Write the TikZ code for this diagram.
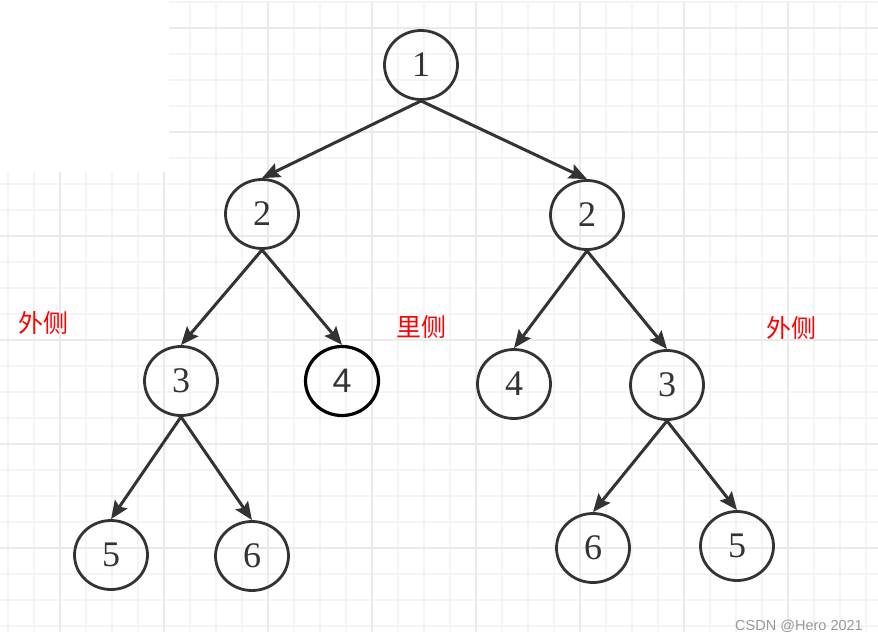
\documentclass[tikz,border=0pt]{standalone}
\usepackage{fontspec}
\setmainfont{Liberation Serif}
\newfontfamily\cjkfont{Noto Sans CJK SC}
\newfontfamily\arialfont{Liberation Sans}
\usetikzlibrary{arrows.meta,shapes.geometric}
\definecolor{gridminor}{HTML}{F4F4F4}
\definecolor{gridmajor}{HTML}{EAEAEA}
\definecolor{edgegray}{HTML}{333333}

\begin{document}
\begin{tikzpicture}[x=1pt,y=-1pt,
  gridline/.style={gridminor,line width=1.5pt},
  gridbold/.style={gridmajor,line width=1.5pt},
  treenode/.style={ellipse,draw=edgegray,line width=2.8pt,minimum width=73pt,minimum height=69pt,
    inner sep=0pt,text=edgegray,font=\fontsize{36}{36}\selectfont},
  treeedge/.style={edgegray,line width=3pt,-{Stealth[length=18pt,width=15pt,inset=3pt]}},
  sidelabel/.style={text=red,font=\cjkfont\fontsize{25}{25}\selectfont}]
  \useasboundingbox[fill=white] (0,0) rectangle (878,642);
  % grid paper
  \foreach \k in {0,...,33} \draw[gridline] (8+26*\k,172) -- (8+26*\k,632);
  \foreach \k in {7,...,24} \draw[gridline] (0,2+26*\k) -- (878,2+26*\k);
  \foreach \k in {7,...,33} \draw[gridline] (8+26*\k,2) -- (8+26*\k,172);
  \foreach \k in {0,...,6} \draw[gridline] (169,2+26*\k) -- (878,2+26*\k);
  \foreach \k in {2,6,...,30} \draw[gridbold] (8+26*\k,172) -- (8+26*\k,632);
  \foreach \k in {10,14,...,30} \draw[gridbold] (8+26*\k,2) -- (8+26*\k,172);
  \foreach \k in {9,13,...,21} \draw[gridbold] (0,2+26*\k) -- (878,2+26*\k);
  \foreach \k in {1,5} \draw[gridbold] (169,2+26*\k) -- (878,2+26*\k);

  \node[treenode] (n1) at (421,65) {1};
  \node[treenode] (n2l) at (262,214) {2};
  \node[treenode] (n2r) at (587,215) {2};
  \node[treenode] (n3l) at (181,381) {3};
  \node[treenode,draw=black,line width=3.2pt,font=\arialfont\fontsize{34}{34}\selectfont] (n4l) at (342,381) {4};
  \node[treenode] (n4r) at (514,384) {4};
  \node[treenode] (n3r) at (667,385) {3};
  \node[treenode] (n5l) at (111,555) {5};
  \node[treenode] (n6l) at (252,556) {6};
  \node[treenode] (n6r) at (593,548) {6};
  \node[treenode] (n5r) at (737,546) {5};

  \draw[treeedge] (n1.south) -- (n2l.north);
  \draw[treeedge] (n1.south) -- (n2r.north);
  \draw[treeedge] (n2l.south) -- (n3l.north);
  \draw[treeedge] (n2l.south) -- (n4l.north);
  \draw[treeedge] (n2r.south) -- (n4r.north);
  \draw[treeedge] (n2r.south) -- (n3r.north);
  \draw[treeedge] (n3l.south) -- (n5l.north);
  \draw[treeedge] (n3l.south) -- (n6l.north);
  \draw[treeedge] (n3r.south) -- (n6r.north);
  \draw[treeedge] (n3r.south) -- (n5r.north);

  \node[sidelabel] (outerl) at (44,323) {外侧};
  \node[sidelabel] (inner) at (421,327) {里侧};
  \node[sidelabel] (outerr) at (791,328) {外侧};
  \node[text=black!40,font=\arialfont\fontsize{14.5}{14.5}\selectfont] (mark) at (799,626) {CSDN @Hero 2021};
\end{tikzpicture}
\end{document}
